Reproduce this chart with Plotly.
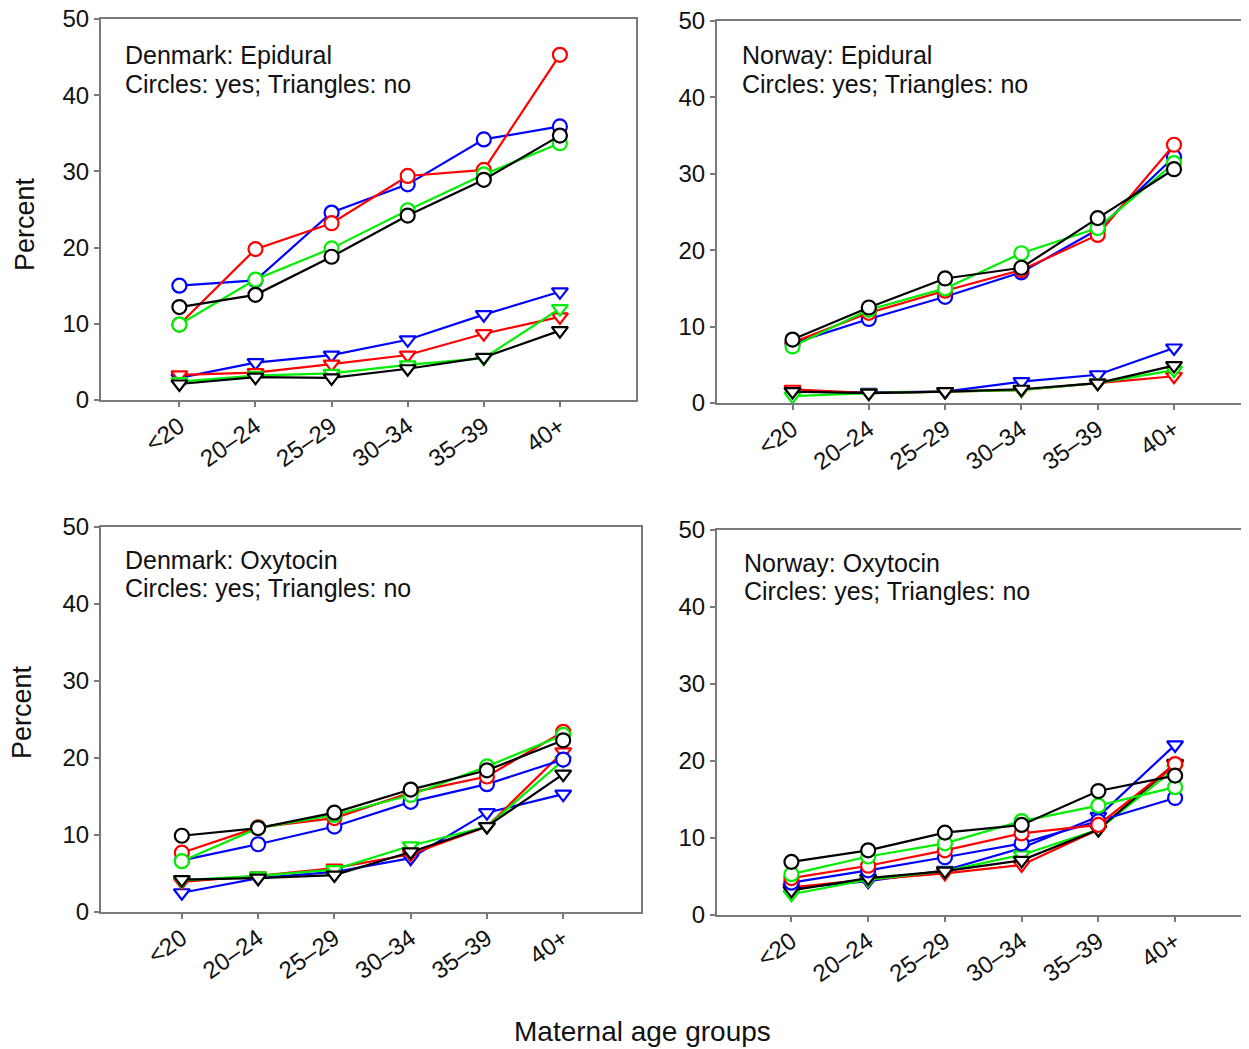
import plotly.graph_objects as go

# The page places the figure 8 px in from the top-left corner, so layout
# positions below are measured on the reference and shifted by OFF.
OFF = 8
W, H = 1249 - OFF, 1049 - OFF

age_groups = ["<20", "20–24", "25–29", "30–34", "35–39", "40+"]
y_ticks = [0, 10, 20, 30, 40, 50]

series_names = ["Blue series", "Red series", "Green series", "Black series"]
series_colors = ["#0000FF", "#FF0000", "#00EE00", "#000000"]

# Denmark: Epidural
dk_epi_yes_blue = [15.0, 15.7, 24.6, 28.3, 34.2, 35.9]
dk_epi_yes_red = [9.9, 19.8, 23.2, 29.4, 30.2, 45.3]
dk_epi_yes_green = [9.9, 15.8, 19.9, 24.9, 29.6, 33.7]
dk_epi_yes_black = [12.2, 13.8, 18.8, 24.2, 28.9, 34.7]
dk_epi_no_blue = [2.9, 4.9, 5.9, 7.9, 11.2, 14.2]
dk_epi_no_red = [3.3, 3.6, 4.7, 5.9, 8.7, 10.9]
dk_epi_no_green = [2.4, 3.2, 3.5, 4.6, 5.5, 12.0]
dk_epi_no_black = [2.1, 3.0, 2.9, 4.1, 5.6, 9.1]

# Norway: Epidural
no_epi_yes_blue = [7.8, 11.0, 13.9, 17.1, 22.7, 32.2]
no_epi_yes_red = [7.9, 11.8, 14.7, 17.4, 22.0, 33.8]
no_epi_yes_green = [7.4, 12.2, 15.0, 19.6, 22.9, 31.4]
no_epi_yes_black = [8.3, 12.5, 16.3, 17.7, 24.2, 30.6]
no_epi_no_blue = [1.5, 1.4, 1.5, 2.8, 3.7, 7.2]
no_epi_no_red = [1.8, 1.3, 1.5, 1.7, 2.6, 3.5]
no_epi_no_green = [0.9, 1.3, 1.5, 1.7, 2.6, 4.3]
no_epi_no_black = [1.5, 1.3, 1.5, 1.8, 2.6, 4.9]

# Denmark: Oxytocin
dk_oxy_yes_blue = [6.7, 8.8, 11.1, 14.3, 16.6, 19.8]
dk_oxy_yes_red = [7.7, 11.0, 12.2, 15.5, 17.6, 23.4]
dk_oxy_yes_green = [6.6, 10.9, 12.6, 15.2, 18.9, 23.0]
dk_oxy_yes_black = [9.9, 10.9, 12.9, 15.9, 18.4, 22.3]
dk_oxy_no_blue = [2.5, 4.4, 5.2, 7.0, 12.9, 15.3]
dk_oxy_no_red = [3.9, 4.7, 5.7, 7.5, 11.1, 20.8]
dk_oxy_no_green = [4.1, 4.7, 5.5, 8.6, 11.1, 19.7]
dk_oxy_no_black = [4.2, 4.4, 4.8, 7.8, 11.1, 17.9]

# Norway: Oxytocin
no_oxy_yes_blue = [4.2, 5.8, 7.5, 9.3, 12.2, 15.2]
no_oxy_yes_red = [4.8, 6.4, 8.4, 10.6, 11.7, 19.6]
no_oxy_yes_green = [5.3, 7.6, 9.3, 12.2, 14.2, 16.6]
no_oxy_yes_black = [6.9, 8.4, 10.7, 11.7, 16.1, 18.1]
no_oxy_no_blue = [3.5, 4.4, 5.8, 8.7, 12.8, 22.1]
no_oxy_no_red = [3.6, 4.6, 5.4, 6.5, 11.1, 19.5]
no_oxy_no_green = [2.7, 4.6, 5.7, 7.8, 11.1, 19.0]
no_oxy_no_black = [3.2, 4.8, 5.7, 7.1, 11.1, 19.7]

panel_titles = ["Denmark: Epidural", "Norway: Epidural", "Denmark: Oxytocin", "Norway: Oxytocin"]
subtitle = "Circles: yes; Triangles: no"
y_title = "Percent"
x_title = "Maternal age groups"

panels = [
    ([dk_epi_yes_blue, dk_epi_yes_red, dk_epi_yes_green, dk_epi_yes_black],
     [dk_epi_no_blue, dk_epi_no_red, dk_epi_no_green, dk_epi_no_black]),
    ([no_epi_yes_blue, no_epi_yes_red, no_epi_yes_green, no_epi_yes_black],
     [no_epi_no_blue, no_epi_no_red, no_epi_no_green, no_epi_no_black]),
    ([dk_oxy_yes_blue, dk_oxy_yes_red, dk_oxy_yes_green, dk_oxy_yes_black],
     [dk_oxy_no_blue, dk_oxy_no_red, dk_oxy_no_green, dk_oxy_no_black]),
    ([no_oxy_yes_blue, no_oxy_yes_red, no_oxy_yes_green, no_oxy_yes_black],
     [no_oxy_no_blue, no_oxy_no_red, no_oxy_no_green, no_oxy_no_black]),
]


def px(xp):
    return (xp - OFF) / W


def py(yp):
    return 1 - (yp - OFF) / H


# pixel boxes of plot areas in the reference: (left, right, top, bottom)
boxes = [(101, 636, 19, 400), (717, 1248, 21, 403), (101, 641, 527, 912), (717, 1248, 530, 915)]
xranges = [[-1.03, 6.0], [-0.99, 5.97], [-1.06, 6.02], [-0.97, 5.95]]
label_pos = [(123, 55, 84), (740, 55, 84), (123, 560, 588), (742, 563, 591)]
ytitle_pos = [(25, 224), (22, 712)]

FONT = "Liberation Sans, Arial, sans-serif"
TXT = "#111111"
AX = "#7a7a7a"
fig = go.Figure()

for i, (yes_list, no_list) in enumerate(panels):
    xa = "x" if i == 0 else f"x{i+1}"
    ya = "y" if i == 0 else f"y{i+1}"
    for k in range(4):
        fig.add_trace(go.Scatter(
            x=age_groups, y=no_list[k], xaxis=xa, yaxis=ya, mode="lines+markers",
            name=series_names[k] + " (no)", showlegend=False,
            line=dict(color=series_colors[k], width=2.2),
            marker=dict(symbol="triangle-down", size=14, color="white",
                        line=dict(color=series_colors[k], width=2.2)),
            cliponaxis=False,
        ))
    for k in range(4):
        fig.add_trace(go.Scatter(
            x=age_groups, y=yes_list[k], xaxis=xa, yaxis=ya, mode="lines+markers",
            name=series_names[k] + " (yes)", showlegend=False,
            line=dict(color=series_colors[k], width=2.2),
            marker=dict(symbol="circle", size=14, color="white",
                        line=dict(color=series_colors[k], width=2.2)),
            cliponaxis=False,
        ))

layout = dict(
    width=W, height=H, margin=dict(l=0, r=0, t=0, b=0, autoexpand=False),
    paper_bgcolor="white", plot_bgcolor="white",
    font=dict(family=FONT, color=TXT),
    showlegend=False,
)

annotations = []
for i, (l, r, t, b) in enumerate(boxes):
    xk = "xaxis" if i == 0 else f"xaxis{i+1}"
    yk = "yaxis" if i == 0 else f"yaxis{i+1}"
    ya = "y" if i == 0 else f"y{i+1}"
    xa = "x" if i == 0 else f"x{i+1}"
    layout[xk] = dict(
        domain=[px(l), min(px(r), 1.0)], anchor=ya, type="category", automargin=False,
        range=xranges[i], showline=True, linecolor=AX, linewidth=2,
        mirror=True, ticks="outside", ticklen=5, tickcolor=AX, tickwidth=1.5,
        tickangle=-35, tickfont=dict(size=24, family=FONT, color=TXT), ticklabelstandoff=-4,
        ticklabeloverflow="allow",
        showgrid=False, zeroline=False,
    )
    layout[yk] = dict(
        domain=[py(b), py(t)], anchor=xa, automargin=False,
        range=[0, 50], tickvals=y_ticks, showline=True, linecolor=AX, linewidth=2,
        mirror=True, ticks="outside", ticklen=5, tickcolor=AX, tickwidth=1.5,
        tickfont=dict(size=24, family=FONT, color=TXT), ticklabelstandoff=0,
        ticklabeloverflow="allow",
        showgrid=False, zeroline=False,
    )
    lx, ly1, ly2 = label_pos[i]
    annotations.append(dict(
        x=px(lx), y=py(ly1), xref="paper", yref="paper", xanchor="left", yanchor="middle",
        text=panel_titles[i], align="left", showarrow=False,
        font=dict(size=25, family=FONT, color=TXT),
    ))
    annotations.append(dict(
        x=px(lx), y=py(ly2), xref="paper", yref="paper", xanchor="left", yanchor="middle",
        text=subtitle, align="left", showarrow=False,
        font=dict(size=25, family=FONT, color=TXT),
    ))

for (tx, ty) in ytitle_pos:
    annotations.append(dict(
        x=px(tx), y=py(ty), xref="paper", yref="paper", xanchor="center", yanchor="middle",
        text=y_title, textangle=-90, showarrow=False,
        font=dict(size=27, family=FONT, color=TXT),
    ))

annotations.append(dict(
    x=px(642), y=py(1031), xref="paper", yref="paper", xanchor="center", yanchor="middle",
    text=x_title, showarrow=False,
    font=dict(size=28, family=FONT, color=TXT),
))
layout["annotations"] = annotations

fig.update_layout(**layout)
fig.write_html("out.html")
